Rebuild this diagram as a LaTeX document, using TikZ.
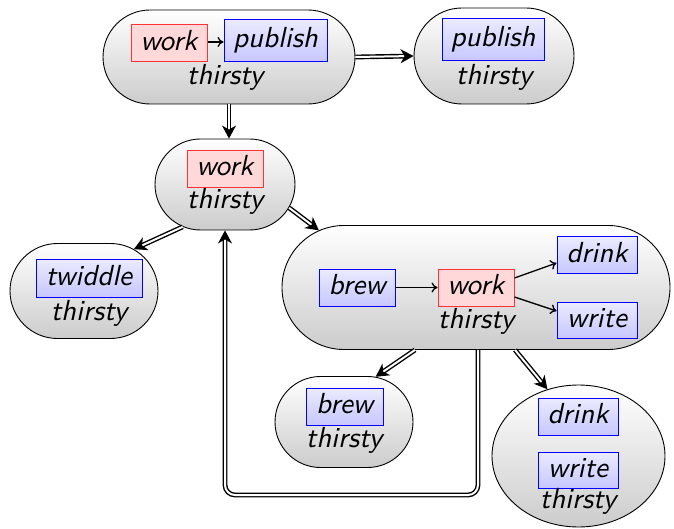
\documentclass[tikz,border=0pt]{standalone}
\usepackage{fontspec}
\newfontfamily\statefont{lmsans10-oblique.otf}
\usetikzlibrary{shapes.misc,shapes.geometric,arrows.meta}
\begin{document}
\begin{tikzpicture}[x=1pt,y=-1pt,
  every node/.style={font=\statefont\fontsize{29}{33}\selectfont},
  state/.style={rounded rectangle, draw, line width=0.9pt,
    top color=white, bottom color=black!20, inner sep=0pt},
  ovalstate/.style={ellipse, draw, line width=0.9pt,
    top color=white, bottom color=black!20, inner sep=0pt},
  act/.style={draw=blue, line width=1pt, top color=blue!8, bottom color=blue!22,
    inner xsep=0pt, inner ysep=2pt, text height=21pt, text depth=7pt},
  hot/.style={draw=red!80, line width=1pt, fill=red!15,
    inner xsep=0pt, inner ysep=2pt, text height=21pt, text depth=7pt},
  lbl/.style={inner sep=0pt, anchor=base},
  flow/.style={line width=1.3pt, -{To[length=6pt,width=10pt]}},
  trans/.style={double, double distance=2pt, line width=1.4pt,
    -{Stealth[length=13pt,width=14pt,inset=4pt]}}
]
\useasboundingbox (0,0) rectangle (674,529);

% top-left state
\node[state, minimum width=252pt, minimum height=94pt] (s1) at (229,57) {};
\node[hot, minimum width=76pt, minimum height=37pt] (s1w) at (169,43.5) {work};
\node[act, minimum width=103pt, minimum height=42pt] (s1p) at (275.5,40.5) {publish};
\node[lbl] (s1t) at (225,85) {thirsty};
\draw[flow] (s1w.east |- 0,42) -- (s1p.west |- 0,42);

% top-right state
\node[state, minimum width=160pt, minimum height=96pt] (s2) at (494,56) {};
\node[act, minimum width=102pt, minimum height=42pt] (s2p) at (493,40) {publish};
\node[lbl] (s2t) at (494,85) {thirsty};

% middle state
\node[state, minimum width=140pt, minimum height=91pt] (s3) at (225,184.5) {};
\node[hot, minimum width=76pt, minimum height=37pt] (s3w) at (225,169) {work};
\node[lbl] (s3t) at (225,209) {thirsty};

% left state
\node[state, minimum width=148pt, minimum height=95pt] (s4) at (84,291) {};
\node[act, minimum width=106pt, minimum height=38pt] (s4a) at (89,278) {twiddle};
\node[lbl] (s4t) at (89,320) {thirsty};

% wide state
\node[state, minimum width=388pt, minimum height=124pt] (s5) at (476,287.5) {};
\node[act, minimum width=76pt, minimum height=37pt] (s5b) at (357,287.5) {brew};
\node[hot, minimum width=76pt, minimum height=37pt] (s5w) at (476,287.5) {work};
\node[act, minimum width=80pt, minimum height=36pt] (s5d) at (597,255) {drink};
\node[act, minimum width=80pt, minimum height=36pt] (s5r) at (597,320) {write};
\node[lbl] (s5t) at (476,328) {thirsty};
\draw[flow] (s5b) -- (s5w);
\draw[flow] (s5w.east |- 0,278) -- (s5d.west |- 0,263);
\draw[flow] (s5w.east |- 0,297) -- (s5r.west |- 0,311);

% lower states
\node[state, minimum width=138pt, minimum height=91pt] (s6) at (344,422) {};
\node[act, minimum width=77pt, minimum height=37pt] (s6b) at (344.5,406.5) {brew};
\node[lbl] (s6t) at (344,447) {thirsty};

\node[ovalstate, minimum width=173pt, minimum height=142pt] (s7) at (578.5,456) {};
\node[act, minimum width=80pt, minimum height=37pt] (s7d) at (578,416.5) {drink};
\node[act, minimum width=80pt, minimum height=36pt] (s7r) at (578,470) {write};
\node[lbl] (s7t) at (578,508) {thirsty};

% transitions between states
\draw[trans] (s1.east) -- (s2.west);
\draw[trans] (s1.south -| 229,0) -- (s3.north -| 229,0);
\draw[trans] (s3.-135) -- (s4.40);
\draw[trans] (s3.-20) -- (s5.160);
\draw[trans] (s5.south -| 415,0) -- (s6.55);
\draw[trans] (s5.south -| 515,0) -- (s7.115);
\draw[trans, rounded corners=10pt] (s5.south -| 478,0) -- (478,495) -- (225,495) -- (s3.south -| 225,0);
\end{tikzpicture}
\end{document}
